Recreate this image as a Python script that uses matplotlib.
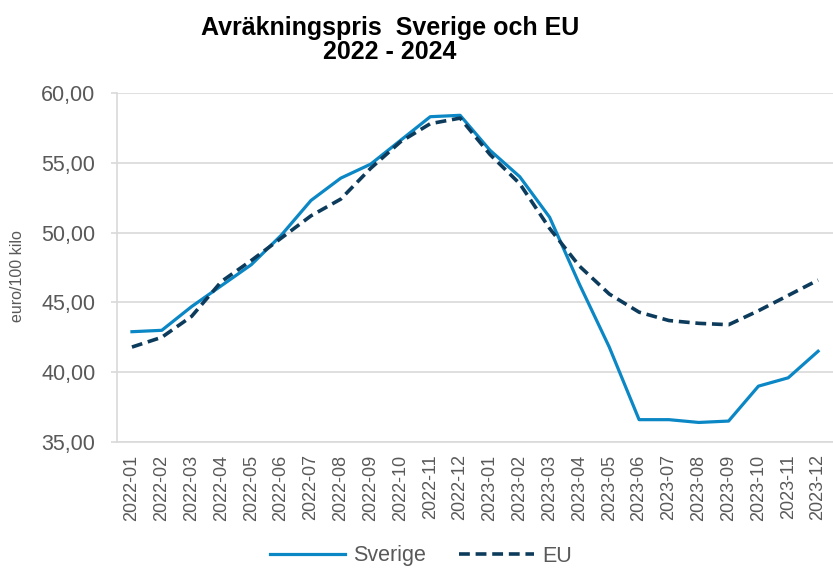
import matplotlib
matplotlib.use("Agg")
import matplotlib.pyplot as plt
from matplotlib.ticker import FuncFormatter

plt.rcParams['font.family'] = ['Liberation Sans', 'DejaVu Sans']

months = ["2022-01", "2022-02", "2022-03", "2022-04", "2022-05", "2022-06",
          "2022-07", "2022-08", "2022-09", "2022-10", "2022-11", "2022-12",
          "2023-01", "2023-02", "2023-03", "2023-04", "2023-05", "2023-06",
          "2023-07", "2023-08", "2023-09", "2023-10", "2023-11", "2023-12"]
sverige = [42.9, 43.0, 44.7, 46.2, 47.7, 49.8, 52.3, 53.9, 54.9, 56.6, 58.3, 58.4,
           55.9, 54.0, 51.1, 46.3, 41.8, 36.6, 36.6, 36.4, 36.5, 39.0, 39.6, 41.5]
eu = [41.8, 42.5, 44.0, 46.5, 48.0, 49.6, 51.2, 52.4, 54.6, 56.5, 57.8, 58.2,
      55.6, 53.5, 50.3, 47.6, 45.6, 44.3, 43.7, 43.5, 43.4, 44.4, 45.5, 46.6]
yticks = [35, 40, 45, 50, 55, 60]

grid_c = "#d9d9d9"
text_c = "#595959"
sv_c = "#0a87c4"
eu_c = "#0d3b5c"

fig = plt.figure(figsize=(8.33, 5.69), dpi=100)
ax = fig.add_axes([0.1405, 0.2232, 0.8595, 0.6134])

x = list(range(len(months)))
ax.plot(x, sverige, color=sv_c, lw=2.3, label="Sverige", zorder=3)
ax.plot(x, eu, color=eu_c, lw=2.6, dashes=(3.0, 1.6), label="EU", zorder=4)

ax.set_xlim(-0.5, len(months) - 0.5)
ax.set_ylim(35, 60)
ax.set_yticks(yticks)
ax.yaxis.set_major_formatter(FuncFormatter(lambda v, p: f"{v:.2f}".replace(".", ",")))
ax.set_xticks(x)
ax.set_xticklabels(months, rotation=90)

ax.grid(axis="y", color=grid_c, lw=1.2, zorder=0)
ax.set_axisbelow(True)
for s in ["top", "right"]:
    ax.spines[s].set_visible(False)
for s in ["left", "bottom"]:
    ax.spines[s].set_color(grid_c)
    ax.spines[s].set_linewidth(1.2)

ax.tick_params(axis="y", colors=grid_c, length=4.5, width=1.2, pad=11,
               labelsize=15.5, labelcolor=text_c)
ax.tick_params(axis="x", length=0, pad=9, labelsize=13, labelcolor=text_c)

fig.text(18 / 833, 1 - 276 / 569, "euro/100 kilo", rotation=90, ha="center",
         va="center", fontsize=11.5, color=text_c)

fig.text(390 / 833, 1 - 40 / 569, "Avräkningspris  Sverige och EU\n2022 - 2024",
         ha="center", va="center", fontsize=18, fontweight="bold",
         linespacing=1.05, color="black")

fig.legend(loc="center", bbox_to_anchor=(421 / 833, 1 - 556 / 569), ncol=2,
           frameon=False, fontsize=15.5, handlelength=3.5, columnspacing=1.5,
           handletextpad=0.4, labelcolor=text_c)

fig.savefig("out.png", dpi=100)
